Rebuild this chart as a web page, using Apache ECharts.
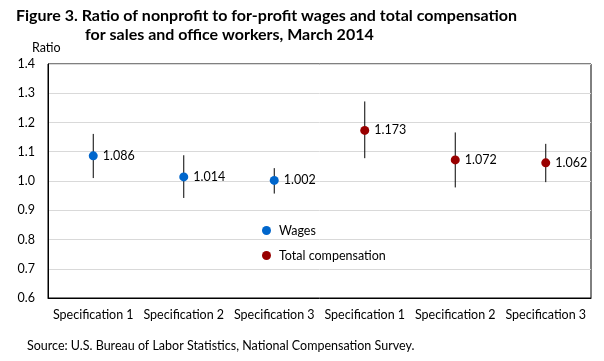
<!DOCTYPE html>
<html><head><meta charset="utf-8">
<script src="https://cdn.jsdelivr.net/npm/echarts@6/dist/echarts.min.js"></script>
<style>html,body{margin:0;padding:0;background:#fff}#c{width:604px;height:361px}</style>
</head><body><div id="c"></div>
<script>
var categories = ['Specification 1','Specification 2','Specification 3','Specification 1','Specification 2','Specification 3'];
var wages = [1.086, 1.014, 1.002, '-', '-', '-'];
var totalComp = ['-', '-', '-', 1.173, 1.072, 1.062];
var lowBounds = [1.010, 0.942, 0.957, 1.078, 0.978, 0.996];
var highBounds = [1.161, 1.088, 1.044, 1.272, 1.166, 1.127];
var yTicks = [0.6, 1.4, 0.1];

var FONT = 'Lato, "Open Sans", sans-serif';
var errData = categories.map(function(c, i){ return [i, lowBounds[i], highBounds[i]]; });

var chart = echarts.init(document.getElementById('c'));
chart.setOption({
  animation: false,
  textStyle: {fontFamily: FONT, color: '#000'},
  grid: {left: 48, right: 13, top: 64, bottom: 63, show: true, borderColor: '#000', borderWidth: 1, backgroundColor: 'transparent'},
  graphic: [
    {type: 'text', left: 16, top: 8, style: {text: 'Figure 3. Ratio of nonprofit to for-profit wages and total compensation', font: 'bold 16px ' + FONT, fill: '#000'}},
    {type: 'text', left: 85, top: 27, style: {text: 'for sales and office workers, March 2014', font: 'bold 16px ' + FONT, fill: '#000'}},
    {type: 'text', left: 32, top: 41, style: {text: 'Ratio', font: '12.5px ' + FONT, fill: '#000'}},
    {type: 'text', left: 27, top: 339, style: {text: 'Source: U.S. Bureau of Labor Statistics, National Compensation Survey.', font: '12.5px ' + FONT, fill: '#000'}}
  ],
  legend: {
    orient: 'vertical', left: 257, top: 219, itemGap: 12, itemWidth: 9, itemHeight: 9,
    icon: 'circle', data: ['Wages', 'Total compensation'],
    textStyle: {fontFamily: FONT, fontSize: 12.5, color: '#000', padding: [0,0,0,3]}
  },
  xAxis: {
    type: 'category', data: categories,
    axisLine: {lineStyle: {color: '#000'}},
    axisTick: {inside: true, length: 4, lineStyle: {color: '#000'}},
    axisLabel: {color: '#000', fontSize: 12.5, margin: 10, interval: 0, fontFamily: FONT},
    splitLine: {show: false}
  },
  yAxis: {
    type: 'value', min: yTicks[0], max: yTicks[1], interval: yTicks[2],
    axisLine: {show: true, lineStyle: {color: '#000'}},
    axisTick: {show: false},
    axisLabel: {color: '#000', fontSize: 12.5, margin: 13, fontFamily: FONT, formatter: function(v){ return v.toFixed(1); }},
    splitLine: {lineStyle: {color: '#d9d9d9', width: 1}}
  },
  series: [
    {
      type: 'custom', name: 'err', z: 1,
      data: errData,
      renderItem: function(params, api){
        var lo = api.coord([api.value(0), api.value(1)]);
        var hi = api.coord([api.value(0), api.value(2)]);
        return {type: 'line', shape: {x1: lo[0], y1: lo[1], x2: hi[0], y2: hi[1]}, style: {stroke: '#000', lineWidth: 1}};
      }
    },
    {
      type: 'scatter', name: 'Wages', data: wages, symbolSize: 9, z: 3,
      itemStyle: {color: '#0066cc', opacity: 1},
      label: {show: true, position: 'right', distance: 5, color: '#000', fontSize: 12.5, fontFamily: FONT, formatter: function(p){ return p.value.toFixed(3); }}
    },
    {
      type: 'scatter', name: 'Total compensation', data: totalComp, symbolSize: 9, z: 3,
      itemStyle: {color: '#990000', opacity: 1},
      label: {show: true, position: 'right', distance: 5, color: '#000', fontSize: 12.5, fontFamily: FONT, formatter: function(p){ return p.value.toFixed(3); }}
    }
  ]
});
</script></body></html>
